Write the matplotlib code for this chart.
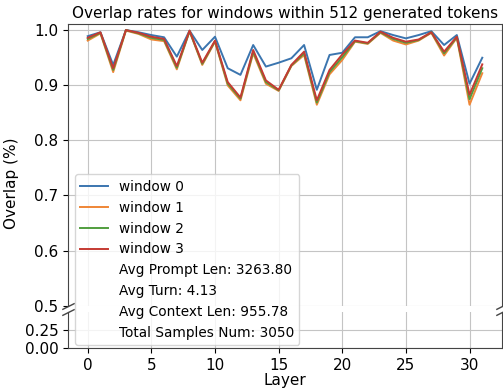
import numpy as np
import matplotlib
matplotlib.use("Agg")
import matplotlib.pyplot as plt
from matplotlib.lines import Line2D

layers = np.arange(32)

# overlap rate per layer for each window
window0 = [0.988, 0.995, 0.936, 0.999, 0.995, 0.990, 0.986, 0.951, 0.998, 0.963,
           0.987, 0.930, 0.918, 0.972, 0.933, 0.940, 0.948, 0.972, 0.891, 0.954,
           0.958, 0.986, 0.986, 0.997, 0.990, 0.984, 0.990, 0.997, 0.972, 0.990,
           0.902, 0.949]
window1 = [0.980, 0.993, 0.923, 0.998, 0.992, 0.982, 0.979, 0.928, 0.997, 0.936,
           0.978, 0.899, 0.872, 0.957, 0.902, 0.889, 0.934, 0.954, 0.864, 0.919,
           0.945, 0.978, 0.974, 0.994, 0.980, 0.973, 0.980, 0.994, 0.953, 0.985,
           0.864, 0.921]
window2 = [0.983, 0.994, 0.927, 0.999, 0.993, 0.985, 0.981, 0.931, 0.997, 0.938,
           0.979, 0.902, 0.875, 0.960, 0.905, 0.890, 0.935, 0.957, 0.868, 0.923,
           0.950, 0.979, 0.975, 0.995, 0.983, 0.976, 0.981, 0.995, 0.957, 0.986,
           0.874, 0.930]
window3 = [0.985, 0.995, 0.930, 0.999, 0.994, 0.987, 0.983, 0.934, 0.998, 0.940,
           0.980, 0.905, 0.877, 0.963, 0.908, 0.891, 0.936, 0.960, 0.872, 0.927,
           0.955, 0.980, 0.976, 0.996, 0.985, 0.978, 0.982, 0.995, 0.960, 0.987,
           0.882, 0.937]
series = [window0, window1, window2, window3]
labels = ["window 0", "window 1", "window 2", "window 3"]

stats = ["Avg Prompt Len: 3263.80", "Avg Turn: 4.13",
         "Avg Context Len: 955.78", "Total Samples Num: 3050"]

plt.rcParams["font.size"] = 11

W, H = 503, 389
fig = plt.figure(figsize=(W / 100, H / 100), dpi=100)
ax_top = fig.add_axes([68 / W, 1 - 306 / H, 434 / W, 282 / H])
ax_bot = fig.add_axes([68 / W, 1 - 348 / H, 434 / W, 36 / H])

colors = ["#3b75af", "#ef8636", "#519e3e", "#c53a32"]
handles = []
for vals, lab, c in zip(series, labels, colors):
    ax_top.plot(layers, vals, color=c, lw=1.4, label=lab)
    h, = ax_bot.plot(layers, vals, color=c, lw=1.4, label=lab)
    handles.append(h)

ax_top.set_ylim(0.5, 1.01)
ax_bot.set_ylim(0, 0.5)
ax_bot.set_yticks([0, 0.25])
ax_top.set_yticks([0.5, 0.6, 0.7, 0.8, 0.9, 1.0])
ax_bot.set_xticks([0, 5, 10, 15, 20, 25, 30])
ax_top.set_xticks([0, 5, 10, 15, 20, 25, 30])
ax_top.set_xlim(ax_bot.get_xlim())

ax_top.spines["bottom"].set_visible(False)
ax_bot.spines["top"].set_visible(False)
ax_top.tick_params(bottom=False, labelbottom=False)
ax_bot.tick_params(axis="x", pad=4)
for a in (ax_top, ax_bot):
    a.grid(True, color="#c4c4c4", lw=0.8)
    for s in a.spines.values():
        s.set_color("#444444")

# break marks
d = 0.5
kw = dict(marker=[(-1, -d), (1, d)], markersize=9, linestyle="none",
          color="#444444", mec="#444444", mew=1, clip_on=False)
ax_top.plot([0, 1], [0, 0], transform=ax_top.transAxes, **kw)
ax_bot.plot([0, 1], [1, 1], transform=ax_bot.transAxes, **kw)

for s in stats:
    handles.append(Line2D([], [], linestyle="none", label=s))
ax_bot.legend(handles=handles, loc="lower left", fontsize=9.8,
              bbox_to_anchor=(75 / W, 1 - 345 / H), bbox_transform=fig.transFigure,
              borderaxespad=0)

ax_top.set_title("Overlap rates for windows within 512 generated tokens", fontsize=11, pad=4)
ax_bot.set_xlabel("Layer", labelpad=0)
fig.text(12 / W, 1 - 183 / H, "Overlap (%)", rotation=90, ha="center", va="center", fontsize=11)

fig.savefig("out.png", dpi=100)
